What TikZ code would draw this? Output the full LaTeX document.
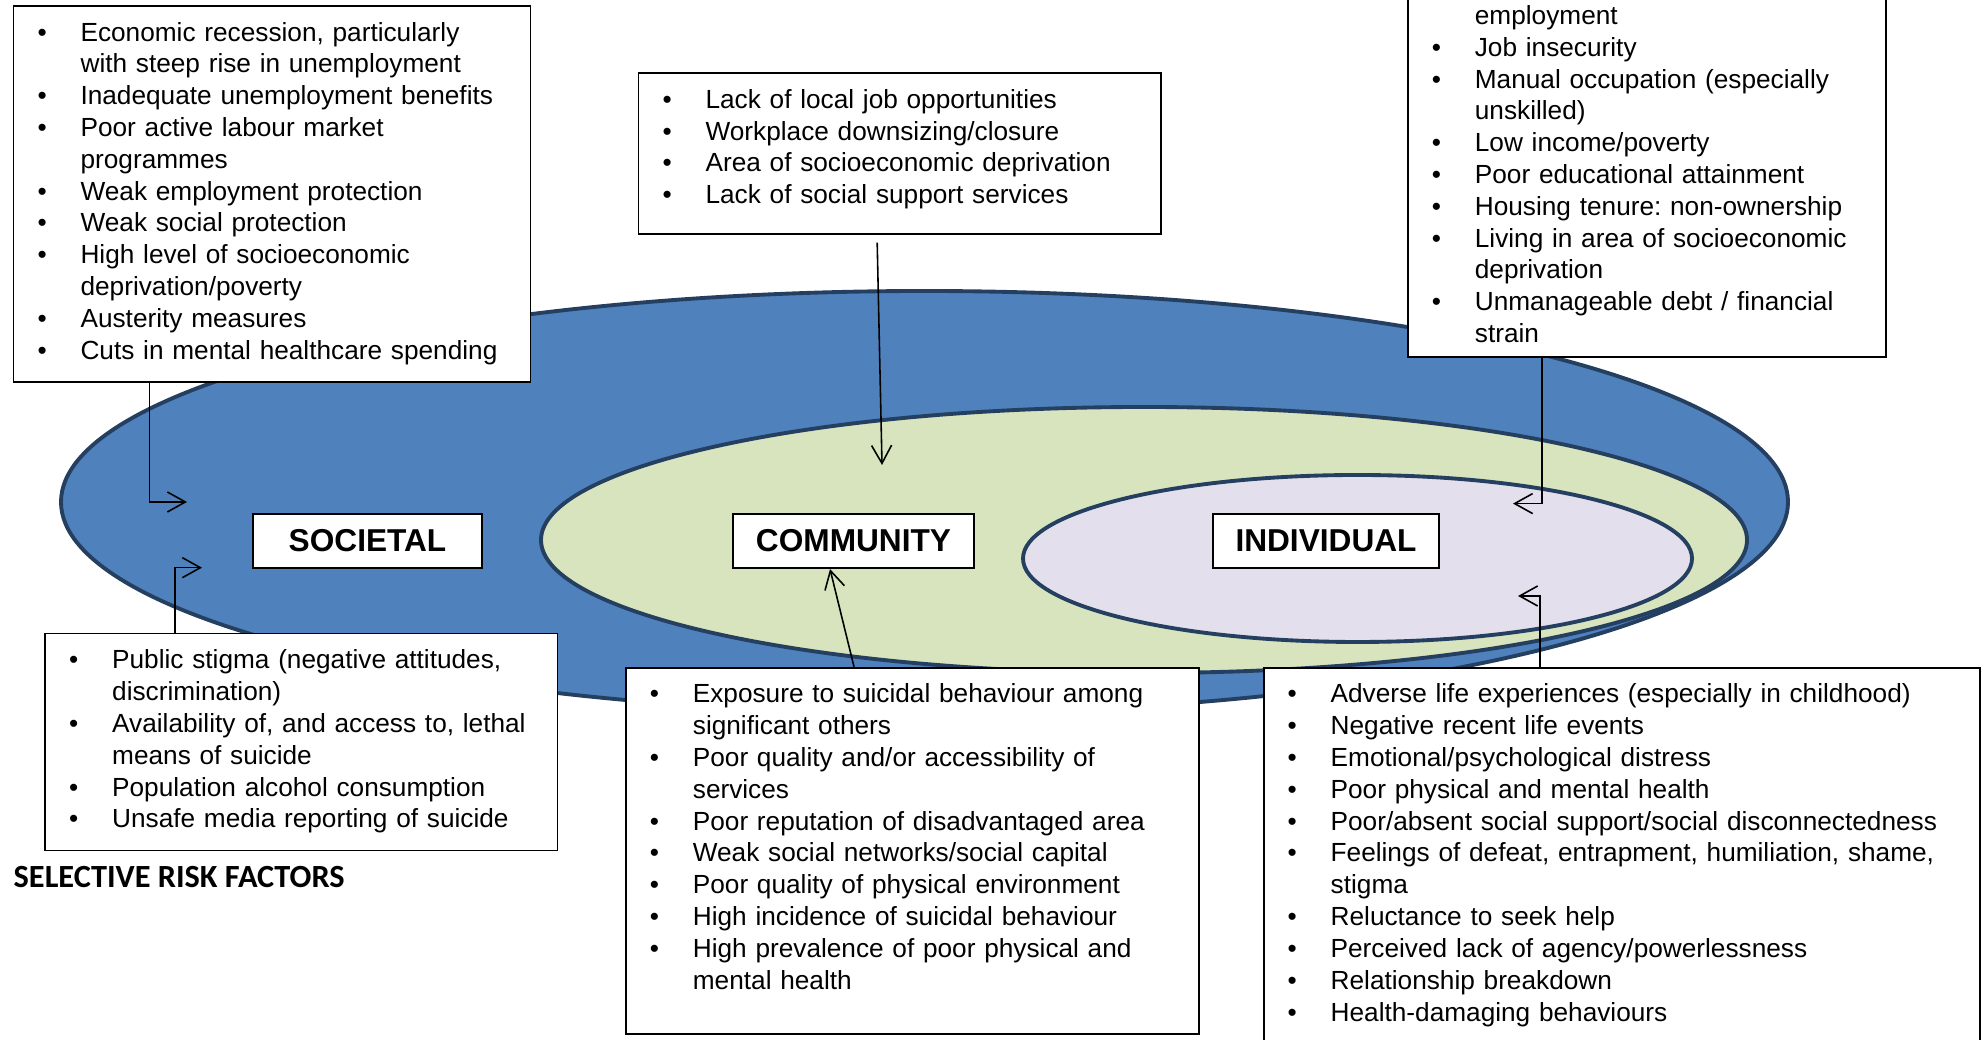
\documentclass[tikz,border=0pt]{standalone}
\usepackage{fontspec}
\usepackage{tikz}
\usetikzlibrary{arrows.meta}
\setmainfont{Liberation Sans}
\newfontfamily\headfamily{Carlito}
\frenchspacing

\definecolor{outerblue}{HTML}{4F81BD}
\definecolor{midgreen}{HTML}{D7E4BD}
\definecolor{innerlilac}{HTML}{E4DFEC}
\definecolor{ringline}{HTML}{243F60}

\newcommand{\rfb}{\strut\makebox[0.43cm][l]{\textbullet}}
\newcommand{\rfc}{\strut\hspace*{0.43cm}}
\newcommand{\rfpad}[1]{\rule[-#1]{0pt}{#1}}

\tikzset{
    riskbox/.style={draw, fill=white, line width=0.5pt, anchor=north west, align=left,
        inner xsep=0.24cm, inner ysep=0.13cm, font=\fontsize{7.46}{9.05}\selectfont},
    level/.style={draw, fill=white, line width=0.6pt, minimum height=0.54cm,
        inner sep=0pt, font=\fontsize{9}{10.8}\selectfont\bfseries},
    ring/.style={draw=ringline, line width=1.1pt},
    link/.style={->, >={Straight Barb[length=1.8mm, width=2mm]}, line width=0.45pt}
}

\begin{document}
\begin{tikzpicture}
    \useasboundingbox (0,0) rectangle (19.84,10.4);
    \clip (0,0) rectangle (19.84,10.4);
    \draw [ring, fill=outerblue] (9.245,5.38) ellipse (8.635 and 2.11);
    \draw [ring, fill=midgreen] (11.44,5.00) ellipse (6.03 and 1.33);
    \draw [ring, fill=innerlilac] (13.575,4.815) ellipse (3.345 and 0.835);

    \node [level, minimum width=2.29cm] (societal) at (3.675,4.99) {SOCIETAL};
    \node [level, minimum width=2.41cm] (community) at (8.535,4.99) {COMMUNITY};
    \node [level, minimum width=2.26cm] (individual) at (13.26,4.99) {INDIVIDUAL};

    \node [riskbox, text width=4.69cm] (socTop) at (0.127,10.35) {%
        \rfb Economic recession, particularly\\
        \rfc with steep rise in unemployment\\
        \rfb Inadequate unemployment benefits\\
        \rfb Poor active labour market\\
        \rfc programmes\\
        \rfb Weak employment protection\\
        \rfb Weak social protection\\
        \rfb High level of socioeconomic\\
        \rfc deprivation/poverty\\
        \rfb Austerity measures\\
        \rfb Cuts in mental healthcare spending};

    \node [riskbox, text width=4.746cm] (comTop) at (6.377,9.679) {%
        \rfb Lack of local job opportunities\\
        \rfb Workplace downsizing/closure\\
        \rfb Area of socioeconomic deprivation\\
        \rfb Lack of social support services\rfpad{0.17cm}};

    \node [riskbox, text width=4.303cm, inner ysep=0.05cm, anchor=south west] (indTop) at (14.07,6.82) {%
        \rfc employment\\
        \rfb Job insecurity\\
        \rfb Manual occupation (especially\\
        \rfc unskilled)\\
        \rfb Low income/poverty\\
        \rfb Poor educational attainment\\
        \rfb Housing tenure: non-ownership\\
        \rfb Living in area of socioeconomic\\
        \rfc deprivation\\
        \rfb Unmanageable debt / financial\\
        \rfc strain};

    \node [riskbox, text width=4.644cm] (socBot) at (0.443,4.073) {%
        \rfb Public stigma (negative attitudes,\\
        \rfc discrimination)\\
        \rfb Availability of, and access to, lethal\\
        \rfc means of suicide\\
        \rfb Population alcohol consumption\\
        \rfb Unsafe media reporting of suicide};

    \node [riskbox, text width=5.252cm] (comBot) at (6.25,3.732) {%
        \rfb Exposure to suicidal behaviour among\\
        \rfc significant others\\
        \rfb Poor quality and/or accessibility of\\
        \rfc services\\
        \rfb Poor reputation of disadvantaged area\\
        \rfb Weak social networks/social capital\\
        \rfb Poor quality of physical environment\\
        \rfb High incidence of suicidal behaviour\\
        \rfb High prevalence of poor physical and\\
        \rfc mental health\rfpad{0.32cm}};

    \node [riskbox, text width=6.682cm] (indBot) at (12.628,3.732) {%
        \rfb Adverse life experiences (especially in childhood)\\
        \rfb Negative recent life events\\
        \rfb Emotional/psychological distress\\
        \rfb Poor physical and mental health\\
        \rfb Poor/absent social support/social disconnectedness\\
        \rfb Feelings of defeat, entrapment, humiliation, shame,\\
        \rfc stigma\\
        \rfb Reluctance to seek help\\
        \rfb Perceived lack of agency/powerlessness\\
        \rfb Relationship breakdown\\
        \rfb Health-damaging behaviours\rfpad{0.3cm}};

    \node [anchor=west, inner sep=0pt, font=\headfamily\bfseries\fontsize{9.2}{11}\selectfont]
        (selective) at (0.13,1.63) {SELECTIVE RISK FACTORS};

    \coordinate (socIn) at (1.87,5.38);
    \coordinate (socIn2) at (2.02,4.723);
    \coordinate (comIn) at (8.82,5.75);
    \coordinate (indIn) at (15.13,5.364);
    \coordinate (indIn2) at (15.18,4.44);

    \draw [link] ([xshift=1.366cm]socTop.south west) |- (socIn);
    \draw [link] ([xshift=1.307cm]socBot.north west) |- (socIn2);
    \draw [link, shorten <=0.08cm] ([xshift=2.393cm]comTop.south west) -- (comIn);
    \draw [link] ([xshift=2.29cm]comBot.north west) -- ([xshift=-0.235cm]community.south);
    \draw [link] ([xshift=1.35cm]indTop.south west) |- (indIn);
    \draw [link] ([xshift=2.772cm]indBot.north west) |- (indIn2);
\end{tikzpicture}
\end{document}
